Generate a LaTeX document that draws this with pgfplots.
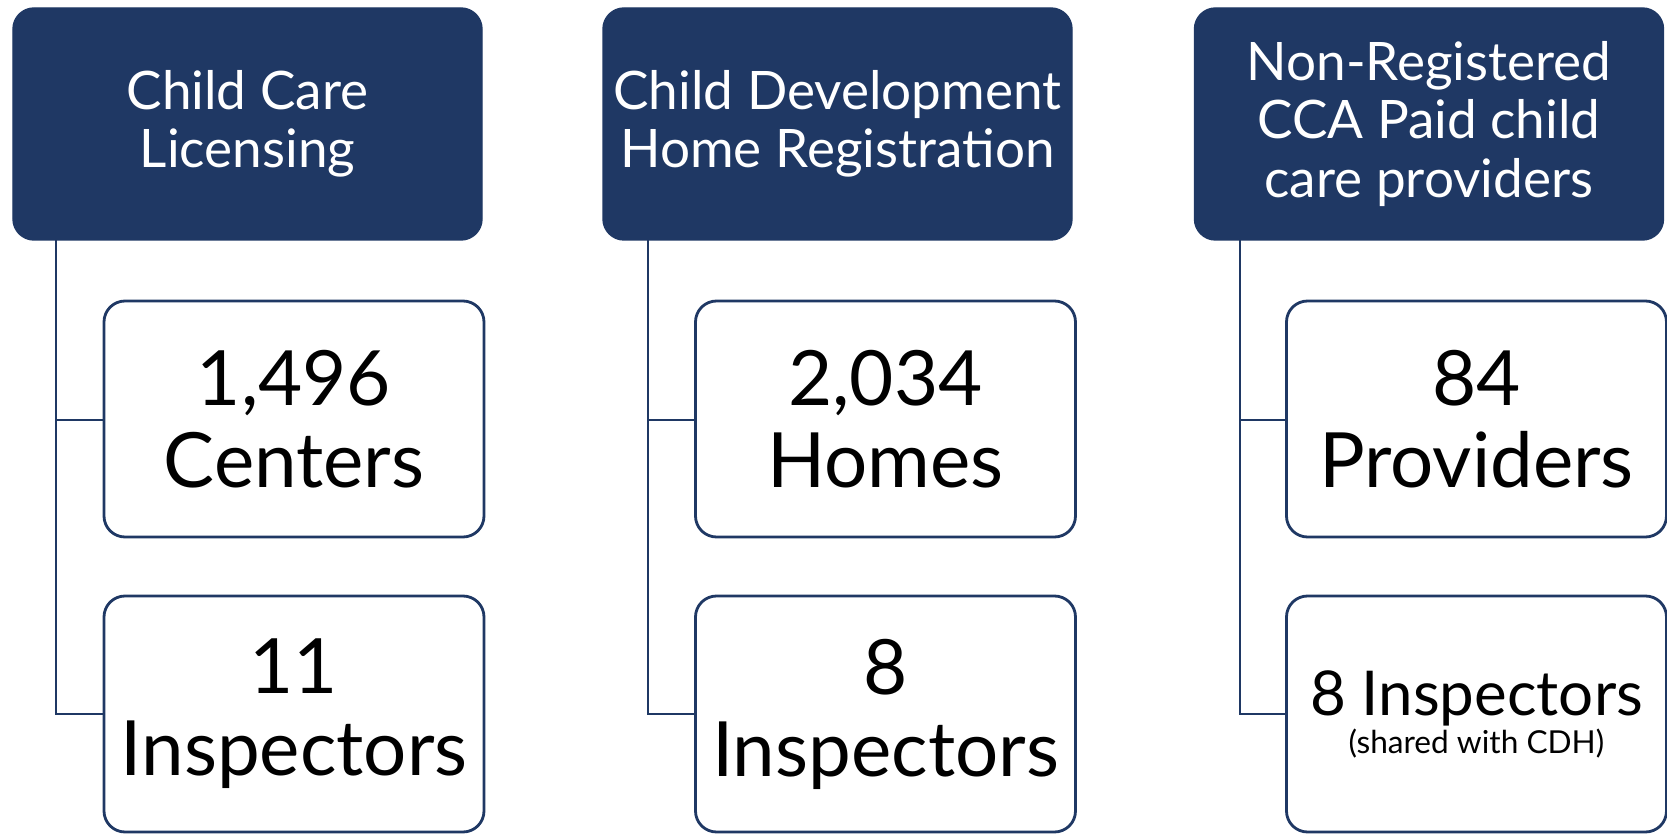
\documentclass[border=0pt]{standalone}
\usepackage{pgfplots}
\pgfplotsset{compat=1.18}
\usepackage{fontspec}
\setmainfont{Lato}

\definecolor{navy}{RGB}{31,56,100}

% box texts, looked up by the symbolic meta of each point
\expandafter\def\csname bx@h1\endcsname{Child Care\\Licensing}
\expandafter\def\csname bx@h2\endcsname{Child Development\\Home Registration}
\expandafter\def\csname bx@h3\endcsname{Non-Registered\\CCA Paid child\\care providers}
\expandafter\def\csname bx@a1\endcsname{1,496\\Centers}
\expandafter\def\csname bx@a2\endcsname{2,034\\Homes}
\expandafter\def\csname bx@a3\endcsname{84\\Providers}
\expandafter\def\csname bx@b1\endcsname{11\\Inspectors}
\expandafter\def\csname bx@b2\endcsname{8\\Inspectors}
\expandafter\def\csname bx@b3\endcsname{{\fontsize{17.6}{19}\selectfont 8 Inspectors}\\[-12.5pt]{\fontsize{9}{10}\selectfont(shared with CDH)}}
\newcommand{\boxtext}[1]{\csname bx@#1\endcsname}

\begin{document}
\begin{tikzpicture}
\begin{axis}[
 width=16.67cm, height=8.34cm,
 scale only axis,
 xmin=0, xmax=1667, ymin=0, ymax=834,
 y dir=reverse,
 hide axis,
 clip=false,
]

% tree connectors
\addplot[navy, line width=0.8pt] coordinates {(56,240)(56,714)(104,714)};
\addplot[navy, line width=0.8pt] coordinates {(56,420)(104,420)};
\addplot[navy, line width=0.8pt] coordinates {(648,240)(648,714)(696,714)};
\addplot[navy, line width=0.8pt] coordinates {(648,420)(696,420)};
\addplot[navy, line width=0.8pt] coordinates {(1240,240)(1240,714)(1287,714)};
\addplot[navy, line width=0.8pt] coordinates {(1240,420)(1287,420)};

% header boxes
\addplot[draw=none, mark=none, point meta=explicit symbolic,
 nodes near coords={\boxtext{\pgfplotspointmeta}},
 nodes near coords style={anchor=center, rectangle, rounded corners=0.21cm,
  fill=navy, draw=navy, text=white, align=center,
  minimum width=4.69cm, minimum height=2.32cm, inner sep=0pt,
  font=\fontsize{15.1}{16.6}\selectfont}]
 coordinates {(247.5,124)[h1] (837.5,124)[h2] (1429,124)[h3]};

% count boxes
\addplot[draw=none, mark=none, point meta=explicit symbolic,
 nodes near coords={\boxtext{\pgfplotspointmeta}},
 nodes near coords style={anchor=center, rectangle, rounded corners=0.21cm,
  fill=white, draw=navy, line width=0.8pt, text=black, align=center,
  minimum width=3.80cm, minimum height=2.36cm, inner sep=0pt,
  font=\fontsize{21.7}{23.3}\selectfont}]
 coordinates {(294,419)[a1] (885.5,419)[a2] (1476.5,419)[a3]
  (294,714)[b1] (885.5,714)[b2] (1476.5,714)[b3]};

\end{axis}
\pgfresetboundingbox
\path (current axis.south west) rectangle (current axis.north east);
\end{tikzpicture}
\end{document}
